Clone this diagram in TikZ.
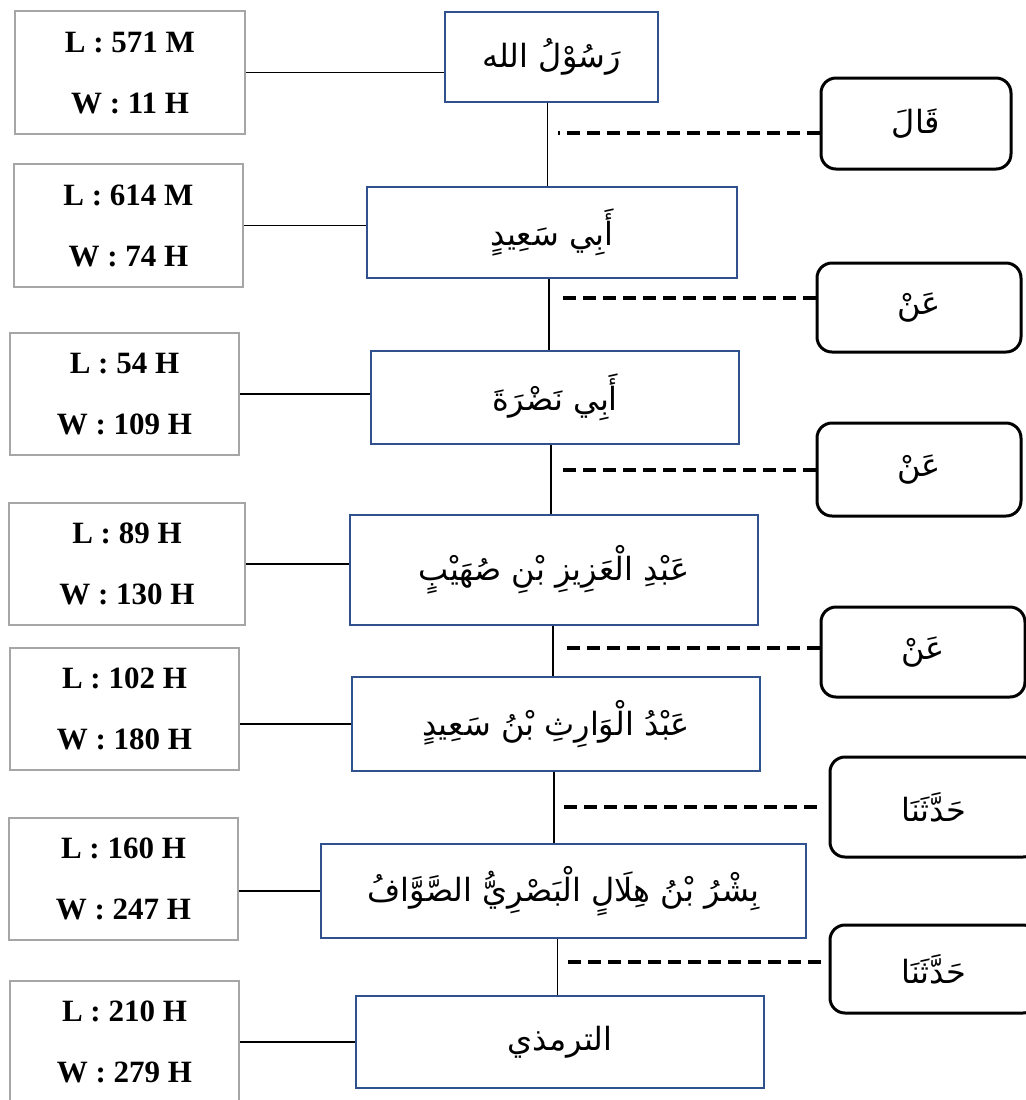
\documentclass[tikz,border=0pt]{standalone}
\usepackage{fontspec}
\setmainfont{Liberation Serif}
\newfontfamily\arabicfont[Script=Arabic]{DejaVu Sans}
\TeXXeTstate=1

\definecolor{bordoblu}{RGB}{47,82,143}
\definecolor{bordogrigio}{RGB}{166,166,166}

\newcommand{\arab}[1]{{\arabicfont\beginR #1\endR}}

\begin{document}
\begin{tikzpicture}[x=0.5pt,y=-0.5pt,
    datibox/.style={draw=bordogrigio, line width=1.3pt, align=center, inner sep=0pt,
        font=\bfseries\fontsize{15.5}{30.5}\selectfont},
    perawi/.style={draw=bordoblu, line width=1.3pt, inner sep=0pt,
        font=\fontsize{16}{20}\selectfont},
    lafaz/.style={draw, line width=1.5pt, rounded corners=7.5pt, inner sep=0pt,
        font=\fontsize{16}{20}\selectfont},
    garis/.style={line width=0.6pt},
    putus/.style={line width=2pt, dash pattern=on 6.5pt off 3.5pt}]
    \useasboundingbox (0,0) rectangle (1026,1100);

    % Catena dei perawi
    \node[perawi, minimum width=106.5pt, minimum height=45pt] (rasul) at (551.5,57) {\arab{رَسُوْلُ الله}};
    \node[perawi, minimum width=185pt, minimum height=45.5pt] (abisaid) at (552,232.5) {\arab{أَبِي سَعِيدٍ}};
    \node[perawi, minimum width=184pt, minimum height=46.5pt] (abinadra) at (555,397.5) {\arab{أَبِي نَضْرَةَ}};
    \node[perawi, minimum width=204pt, minimum height=55pt] (abdulaziz) at (554,570) {\arab{عَبْدِ الْعَزِيزِ بْنِ صُهَيْبٍ}};
    \node[perawi, minimum width=204pt, minimum height=47pt] (abdulwaris) at (556,724) {\arab{عَبْدُ الْوَارِثِ بْنُ سَعِيدٍ}};
    \node[perawi, minimum width=242.5pt, minimum height=47pt] (bisyr) at (563.5,891) {\arab{بِشْرُ بْنُ هِلَالٍ الْبَصْرِيُّ الصَّوَّافُ}};
    \node[perawi, minimum width=204pt, minimum height=46pt] (tirmidzi) at (560,1042) {\arab{الترمذي}};

    % Lahir e wafat
    \node[datibox, minimum width=115pt, minimum height=61.5pt] (lw1) at (130,72.5) {L : 571 M\\W : 11 H};
    \node[datibox, minimum width=114.5pt, minimum height=61.5pt] (lw2) at (128.5,225.5) {L : 614 M\\W : 74 H};
    \node[datibox, minimum width=114.5pt, minimum height=61pt] (lw3) at (124.5,394) {L : 54 H\\W : 109 H};
    \node[datibox, minimum width=118pt, minimum height=61pt] (lw4) at (127,564) {L : 89 H\\W : 130 H};
    \node[datibox, minimum width=114.5pt, minimum height=61pt] (lw5) at (124.5,709) {L : 102 H\\W : 180 H};
    \node[datibox, minimum width=114.5pt, minimum height=61pt] (lw6) at (123.5,879) {L : 160 H\\W : 247 H};
    \node[datibox, minimum width=114.5pt, minimum height=61pt] (lw7) at (124.5,1042) {L : 210 H\\W : 279 H};

    % Sighat
    \node[lafaz, minimum width=95pt, minimum height=45.5pt] (qala) at (916,123.5) {\arab{قَالَ}};
    \node[lafaz, minimum width=102pt, minimum height=44.5pt] (an1) at (919,307.5) {\arab{عَنْ}};
    \node[lafaz, minimum width=102pt, minimum height=46.5pt] (an2) at (919,469.5) {\arab{عَنْ}};
    \node[lafaz, minimum width=102pt, minimum height=45pt] (an3) at (923,652) {\arab{عَنْ}};
    \node[lafaz, minimum width=104pt, minimum height=50pt] (hadd1) at (934,807) {\arab{حَدَّثَنَا}};
    \node[lafaz, minimum width=104pt, minimum height=44pt] (hadd2) at (934,969) {\arab{حَدَّثَنَا}};

    % Linea verticale
    \draw[garis] ([xshift=-2pt]rasul.south) -- ([xshift=-2pt]rasul.south |- abisaid.north);
    \draw[garis] ([xshift=-1.5pt]abisaid.south) -- ([xshift=-1.5pt]abisaid.south |- abinadra.north);
    \draw[garis] ([xshift=-2pt]abinadra.south) -- ([xshift=-2pt]abinadra.south |- abdulaziz.north);
    \draw[garis] ([xshift=-0.5pt]abdulaziz.south) -- ([xshift=-0.5pt]abdulaziz.south |- abdulwaris.north);
    \draw[garis] ([xshift=-1pt]abdulwaris.south) -- ([xshift=-1pt]abdulwaris.south |- bisyr.north);
    \draw[garis] ([xshift=-3pt]bisyr.south) -- ([xshift=-3pt]bisyr.south |- tirmidzi.north);

    % Linee verso le date
    \draw[garis] (lw1.east) -- (lw1.east -| rasul.west);
    \draw[garis] (lw2.east) -- (lw2.east -| abisaid.west);
    \draw[garis] (lw3.east) -- (lw3.east -| abinadra.west);
    \draw[garis] (lw4.east) -- (lw4.east -| abdulaziz.west);
    \draw[garis] (abdulwaris.west -| lw5.east) -- (abdulwaris.west);
    \draw[garis] (bisyr.west -| lw6.east) -- (bisyr.west);
    \draw[garis] (lw7.east) -- (lw7.east -| tirmidzi.west);

    % Tratteggi
    \draw[putus] ([yshift=-4.5pt]qala.west) -- ([xshift=3pt,yshift=-4.5pt]rasul.south |- qala.west);
    \draw[putus] ([yshift=5pt]an1.west) -- ([xshift=3.5pt,yshift=5pt]abisaid.south |- an1.west);
    \draw[putus] (an2.west) -- ([xshift=2pt]abinadra.south |- an2.west);
    \draw[putus] ([yshift=2pt]an3.west) -- ([xshift=3pt,yshift=2pt]abdulaziz.south |- an3.west);
    \draw[putus] ([xshift=-6pt]hadd1.west) -- ([xshift=2pt]abdulwaris.south |- hadd1.west);
    \draw[putus] ([xshift=-4pt,yshift=3.5pt]hadd2.west) -- ([xshift=0pt,yshift=3.5pt]bisyr.south |- hadd2.west);
\end{tikzpicture}
\end{document}
